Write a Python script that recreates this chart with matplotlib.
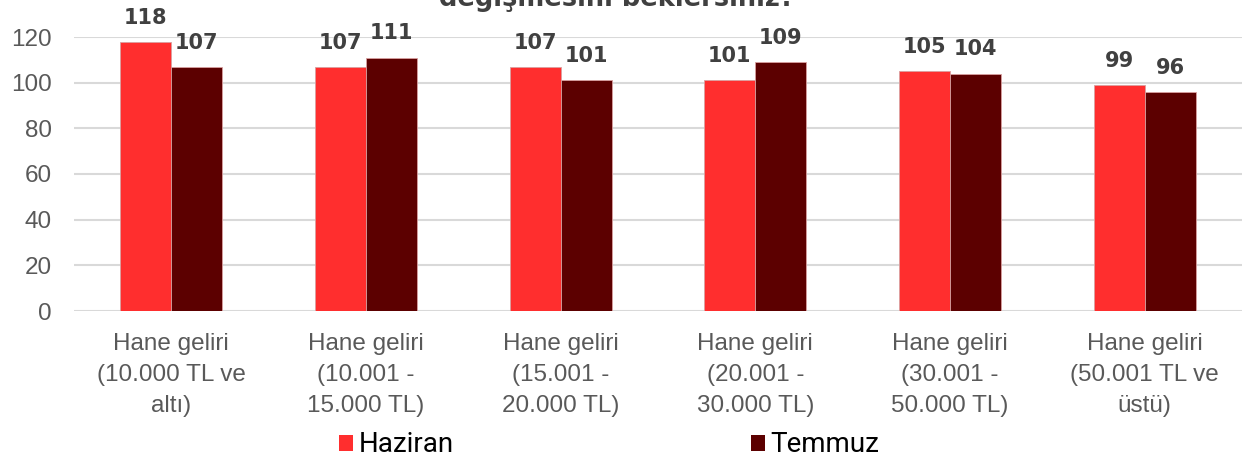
import matplotlib
matplotlib.use("Agg")
import matplotlib.pyplot as plt
from matplotlib.patches import Patch
import numpy as np

categories = [
    "Hane geliri\n(10.000 TL ve\naltı)",
    "Hane geliri\n(10.001 -\n15.000 TL)",
    "Hane geliri\n(15.001 -\n20.000 TL)",
    "Hane geliri\n(20.001 -\n30.000 TL)",
    "Hane geliri\n(30.001 -\n50.000 TL)",
    "Hane geliri\n(50.001 TL ve\nüstü)",
]
haziran = [118, 107, 107, 101, 105, 99]
temmuz = [107, 111, 101, 109, 104, 96]
series_names = ["Haziran", "Temmuz"]
colors = ["#FF2E2E", "#5C0000"]
title = "değişmesini beklersiniz?"

W, H = 1244, 459
fig = plt.figure(figsize=(W / 100, H / 100), dpi=100)
ax = fig.add_axes([74 / W, 1 - 311 / H, (1242 - 74) / W, (311 - 37) / H])

x = np.arange(len(categories))
bw = 0.262
for vals, off, c in [(haziran, -bw / 2, colors[0]), (temmuz, bw / 2, colors[1])]:
    bars = ax.bar(x + off, vals, width=bw, color=c, edgecolor="#d9a0a0", linewidth=0.6, zorder=3)
    for b, v in zip(bars, vals):
        ax.annotate(str(v), (b.get_x() + b.get_width() / 2, v), xytext=(0, 13),
                    textcoords="offset points", ha="center", va="baseline",
                    fontsize=15, fontweight="heavy", color="#404040",
                    family="DejaVu Sans", annotation_clip=False)

ax.set_xlim(-0.5, len(categories) - 0.5)
ax.set_ylim(0, 120)
ax.set_yticks(range(0, 121, 20))
ax.yaxis.grid(True, color="#D9D9D9", linewidth=1.5, zorder=0)
for s in ax.spines.values():
    s.set_visible(False)
ax.tick_params(length=0)
ax.tick_params(axis="y", pad=16)
ax.tick_params(axis="x", pad=16)
ax.set_xticks(x)
ax.set_xticklabels(categories, linespacing=1.52)
for lbl in ax.get_xticklabels() + ax.get_yticklabels():
    lbl.set_fontsize(17.5)
    lbl.set_color("#595959")
    lbl.set_family("Liberation Sans")

fig.text(617 / W, 1 - 6 / H, title, ha="center", va="baseline",
         fontsize=18.5, fontweight="bold", color="#404040", family="DejaVu Sans")

handles = [Patch(facecolor=c, edgecolor="none") for c in colors]
fig.legend(handles, series_names, loc="center", bbox_to_anchor=(609 / W, 1 - 445 / H),
           ncol=2, frameon=False, handlelength=0.5, handleheight=0.5,
           handletextpad=0.2, columnspacing=10.7, borderpad=0.1,
           prop={"family": "Roboto", "size": 20})

fig.savefig("out.png", dpi=100)
